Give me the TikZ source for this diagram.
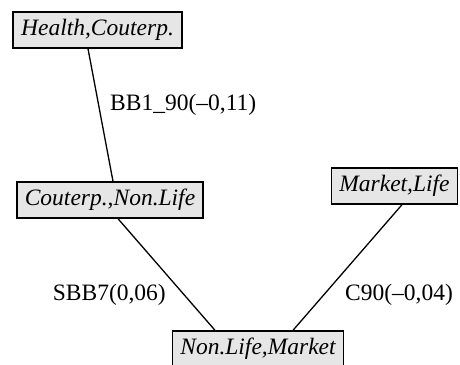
\documentclass[tikz,border=0pt]{standalone}
\usepackage{fontspec}
\setmainfont{Liberation Serif}
\begin{document}
\begin{tikzpicture}[x=1pt,y=1pt,
  cell/.style={draw=black, line width=1.4pt, fill=boxgray, inner xsep=8pt, inner ysep=0pt,
    minimum height=36pt, font=\fontsize{23.5}{28}\selectfont\itshape},
  edgelabel/.style={font=\fontsize{23.5}{28}\selectfont, inner sep=0pt},
  link/.style={line width=1.3pt}]
\definecolor{boxgray}{HTML}{E6E6E6}
\useasboundingbox (0,0) rectangle (460,364);
% tree nodes
\node[cell] (h) at (97.5,334) {Health,Couterp.};
\node[cell] (c) at (110,164) {Couterp.,Non.Life};
\node[cell] (m) at (394.5,178) {Market,Life};
\node[cell] (n) at (258,15) {Non.Life,Market};
% connectors
\draw[link] ([xshift=-9.5pt]h.south) -- ([xshift=3pt]c.north);
\draw[link] ([xshift=8pt]c.south) -- ([xshift=-43pt]n.north);
\draw[link] ([xshift=7.5pt]m.south) -- ([xshift=35pt]n.north);
% edge labels
\node[edgelabel, anchor=west] (l1) at (110,259) {BB1\_90(--0,11)};
\node[edgelabel, anchor=east] (l2) at (166,69) {SBB7(0,06)};
\node[edgelabel, anchor=west] (l3) at (345,69) {C90(--0,04)};
\end{tikzpicture}
\end{document}
